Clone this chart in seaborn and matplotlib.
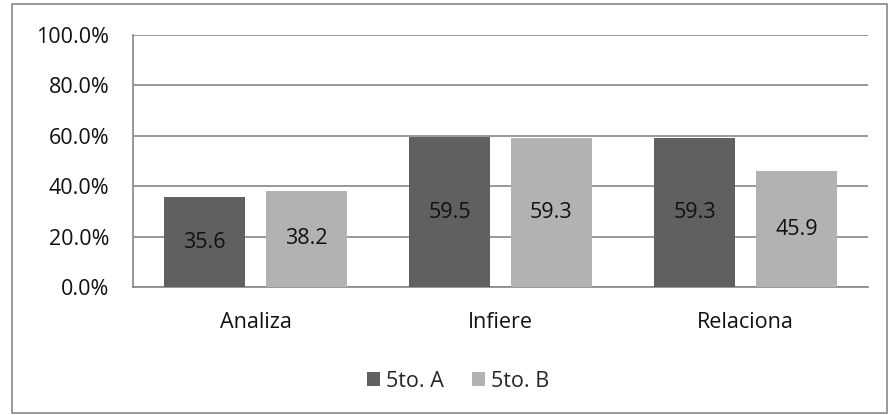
import matplotlib
matplotlib.use("Agg")
import matplotlib.pyplot as plt
from matplotlib.patches import Rectangle
from matplotlib.ticker import FuncFormatter
import seaborn as sns
import pandas as pd

categories = ["Analiza", "Infiere", "Relaciona"]
series_names = ["5to. A", "5to. B"]
values_a = [35.6, 59.5, 59.3]
values_b = [38.2, 59.3, 45.9]
y_ticks = [0, 20, 40, 60, 80, 100]

df = pd.DataFrame({
    "cat": categories * 2,
    "grupo": [series_names[0]] * 3 + [series_names[1]] * 3,
    "val": values_a + values_b,
})

sns.set_theme(style="white")
plt.rcParams["font.family"] = ["Open Sans", "DejaVu Sans"]

fig = plt.figure(figsize=(8.89, 4.15), dpi=100)
ax = fig.add_axes([133 / 889, 1 - 287 / 415, (868 - 133) / 889, (287 - 35) / 415])

palette = {series_names[0]: "#606060", series_names[1]: "#b2b2b2"}
sns.barplot(data=df, x="cat", y="val", hue="grupo", palette=palette,
            order=categories, hue_order=series_names, ax=ax,
            width=0.831, gap=0.206, saturation=1, legend=True,
            linewidth=0, edgecolor="none", zorder=3)

for cont in ax.containers:
    labels = [f"{b.get_height():.1f}" for b in cont]
    ax.bar_label(cont, labels=labels, label_type="center", fontsize=15.5,
                 color="#111111")

ax.set_ylim(0, 100)
ax.set_yticks(y_ticks)
ax.yaxis.set_major_formatter(FuncFormatter(lambda v, p: f"{v:.1f}%"))
ax.grid(axis="y", color="#868686", linewidth=1.2, zorder=0)
ax.set_axisbelow(True)
for s in ["top", "right"]:
    ax.spines[s].set_visible(False)
for s in ["left", "bottom"]:
    ax.spines[s].set_color("#868686")
    ax.spines[s].set_linewidth(1.2)
ax.set_xlabel("")
ax.set_ylabel("")
ax.tick_params(axis="both", labelsize=15.5, colors="#111111", length=0)
ax.tick_params(axis="x", pad=18)
ax.tick_params(axis="y", pad=17)

handles, labels = ax.get_legend_handles_labels()
ax.get_legend().remove()
fig.legend(handles, labels, loc="center", bbox_to_anchor=(458 / 889, 1 - 381 / 415),
           ncol=2, frameon=False, fontsize=15.5, handlelength=0.6, handleheight=0.6,
           handletextpad=0.3, columnspacing=1.3)

fig.patches.append(Rectangle((12 / 889, 2 / 415), 875 / 889, 409 / 415,
                             transform=fig.transFigure, fill=False,
                             edgecolor="#888888", linewidth=1.2))

fig.savefig("out.png", dpi=100, facecolor="white")
